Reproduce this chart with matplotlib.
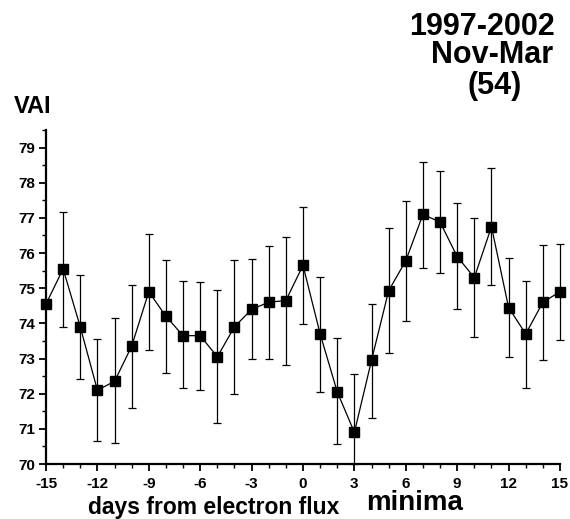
import numpy as np
import matplotlib
matplotlib.use("Agg")
import matplotlib.pyplot as plt
from matplotlib.ticker import MultipleLocator

plt.rcParams['font.family'] = ['Liberation Sans', 'DejaVu Sans']
plt.rcParams['axes.unicode_minus'] = False

# days from electron flux minima
days = list(range(-15, 16))

# mean VAI per day
vai = [74.55, 75.55, 73.9, 72.1, 72.35, 73.35, 74.9, 74.2, 73.65, 73.65, 73.05,
       73.9, 74.4, 74.6, 74.65, 75.65, 73.7, 72.05, 70.9, 72.95, 74.93,
       75.78, 77.1, 76.88, 75.9, 75.3, 76.75, 74.45, 73.7, 74.6, 74.9]

# bottom and top ends of the error bars
err_low = [74.55, 73.9, 72.43, 70.65, 70.6, 71.6, 73.25, 72.6, 72.15, 72.1, 71.17,
           71.99, 72.98, 72.98, 72.82, 73.98, 72.04, 70.57, 70.0, 71.3, 73.15,
           74.08, 75.58, 75.42, 74.4, 73.62, 75.1, 73.04, 72.17, 72.95, 73.53]
err_high = [74.55, 77.17, 75.37, 73.55, 74.15, 75.1, 76.54, 75.8, 75.2, 75.18, 74.94,
            75.81, 75.82, 76.2, 76.46, 77.31, 75.33, 73.58, 72.55, 74.55, 76.71,
            77.47, 78.59, 78.34, 77.42, 77.0, 78.43, 75.86, 75.2, 76.23, 76.27]

y = np.array(vai)
yerr = [y - np.array(err_low), np.array(err_high) - y]

W, H = 570, 519
fig = plt.figure(figsize=(W / 100, H / 100), dpi=100)
ax = fig.add_axes([46 / W, 55 / H, 514 / W, 334 / H])

line, caps, bars = ax.errorbar(days, vai, yerr=yerr, fmt='-s', color='black', lw=0.9,
                               elinewidth=0.9, capsize=3, capthick=0.9,
                               markersize=7, markerfacecolor='black',
                               markeredgecolor='black')
# the last bar sticks out past the right end of the axis in the original
line.set_clip_on(False)
for art in list(caps) + list(bars):
    art.set_clip_on(False)

ax.set_xlim(-15, 15)
ax.set_ylim(70, 79.5)
ax.xaxis.set_major_locator(MultipleLocator(3))
ax.xaxis.set_minor_locator(MultipleLocator(1))
ax.yaxis.set_major_locator(MultipleLocator(1))
ax.yaxis.set_minor_locator(MultipleLocator(0.5))

# only left and bottom axes, like the scanned figure
ax.spines['top'].set_visible(False)
ax.spines['right'].set_visible(False)
ax.spines['left'].set_linewidth(1.6)
ax.spines['bottom'].set_linewidth(1.6)
ax.tick_params(which='major', direction='out', length=5, width=1.3)
ax.tick_params(which='minor', direction='out', length=3, width=1.0)
ax.tick_params(axis='x', which='major', pad=4)
ax.tick_params(axis='y', which='major', pad=3)
for lab in ax.get_xticklabels() + ax.get_yticklabels():
    lab.set_fontweight('bold')
    lab.set_fontsize(11)

# texts placed in figure pixels (origin at top left)
def put(txt, x, yb, size, ha='left'):
    fig.text(x / W, 1 - yb / H, txt, fontsize=size, fontweight='bold',
             ha=ha, va='baseline')

put('1997-2002', 555, 35, 22, ha='right')
put('Nov-Mar', 553, 63, 22, ha='right')
put('(54)', 522, 94, 22, ha='right')
put('VAI', 14, 113, 17)
put('days from electron flux', 88, 514, 16.5)
put('minima', 366, 510, 20)

fig.savefig('out.png', dpi=100)
